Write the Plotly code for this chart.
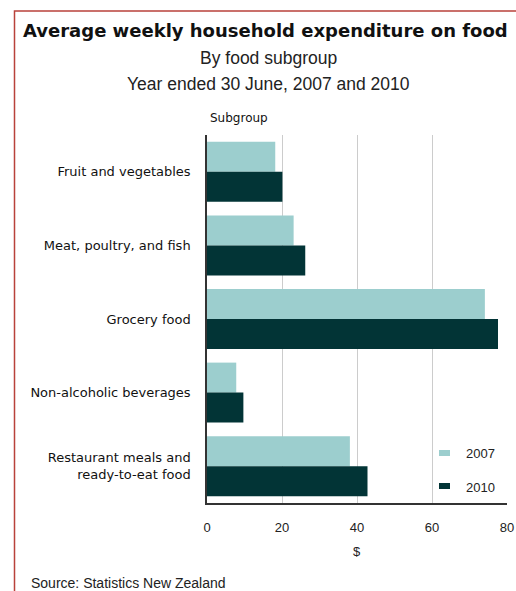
import plotly.graph_objects as go

categories = ["Fruit and vegetables", "Meat, poultry, and fish", "Grocery food",
              "Non-alcoholic beverages", "Restaurant meals and<br>ready-to-eat food"]
values_2007 = [18.2, 23.1, 74.1, 7.8, 38.1]
values_2010 = [20.1, 26.2, 77.6, 9.7, 42.8]
series_names = ["2007", "2010"]
x_ticks = [0, 20, 40, 60, 80]

W, H = 516, 591
L, R, T, B = 207, 507, 135, 503
C07 = "#9ccece"
C10 = "#023436"

def px(x):
    return (x - L) / (R - L)

def py(y):
    return (B - y) / (B - T)

fig = go.Figure()
fig.add_trace(go.Bar(y=categories, x=values_2007, name=series_names[0], orientation="h",
                     marker=dict(color=C07, line=dict(width=0))))
fig.add_trace(go.Bar(y=categories, x=values_2010, name=series_names[1], orientation="h",
                     marker=dict(color=C10, line=dict(width=0))))

fig.update_layout(
    width=W, height=H, autosize=False,
    margin=dict(l=L, r=W - R, t=T, b=H - B, pad=0, autoexpand=False),
    paper_bgcolor="white", plot_bgcolor="white",
    barmode="group", bargap=0.185, bargroupgap=0,
    showlegend=False,
    font=dict(family="DejaVu Sans", color="#111"),
)
fig.update_xaxes(range=[0, 80], tickvals=x_ticks, ticktext=[str(v) for v in x_ticks],
                 showgrid=True, gridcolor="#cccccc", gridwidth=1, automargin=False,
                 showline=True, linecolor="#333", linewidth=1.5, zeroline=False,
                 ticks="", ticklabelstandoff=12,
                 tickfont=dict(family="Liberation Sans", size=13, color="#222"))
fig.update_yaxes(categoryorder="array", categoryarray=categories, autorange="reversed",
                 showline=True, linecolor="#333", linewidth=1.5, showgrid=False,
                 ticks="", ticklabelstandoff=12, automargin=False,
                 tickfont=dict(family="DejaVu Sans", size=13, color="#111"))

ann = []
ann.append(dict(text="<b>Average weekly household expenditure on food</b>", x=px(265), y=py(30),
                font=dict(family="DejaVu Sans", size=18, color="#111")))
ann.append(dict(text="By food subgroup", x=px(268), y=py(58),
                font=dict(family="Liberation Sans", size=17.5, color="#222")))
ann.append(dict(text="Year ended 30 June, 2007 and 2010", x=px(268), y=py(84),
                font=dict(family="Liberation Sans", size=17.5, color="#222")))
ann.append(dict(text="Subgroup", x=px(238.5), y=py(118),
                font=dict(family="DejaVu Sans", size=12, color="#111")))
ann.append(dict(text="$", x=px(357), y=py(551),
                font=dict(family="Liberation Sans", size=13, color="#222")))
ann.append(dict(text="Source: Statistics New Zealand", x=px(29), y=py(583), xanchor="left",
                font=dict(family="Liberation Sans", size=14, color="#222")))
ann.append(dict(text=series_names[0], x=px(464), y=py(453), xanchor="left",
                font=dict(family="Liberation Sans", size=13, color="#222")))
ann.append(dict(text=series_names[1], x=px(464), y=py(487), xanchor="left",
                font=dict(family="Liberation Sans", size=13, color="#222")))
for a in ann:
    a.setdefault("xanchor", "center")
    a.update(xref="paper", yref="paper", yanchor="middle", showarrow=False)
fig.update_layout(annotations=ann)

shapes = [
    dict(type="rect", xref="paper", yref="paper", x0=px(439), x1=px(450), y0=py(450), y1=py(456),
         fillcolor=C07, line=dict(width=0)),
    dict(type="rect", xref="paper", yref="paper", x0=px(439), x1=px(450), y0=py(483), y1=py(489),
         fillcolor=C10, line=dict(width=0)),
    dict(type="path", xref="paper", yref="paper",
         path=f"M {px(14.5)} {py(600)} L {px(14.5)} {py(11)} L {px(520)} {py(11)}",
         line=dict(color="#b9423b", width=1.5)),
]
fig.update_layout(shapes=shapes)

fig.write_html("out.html")
